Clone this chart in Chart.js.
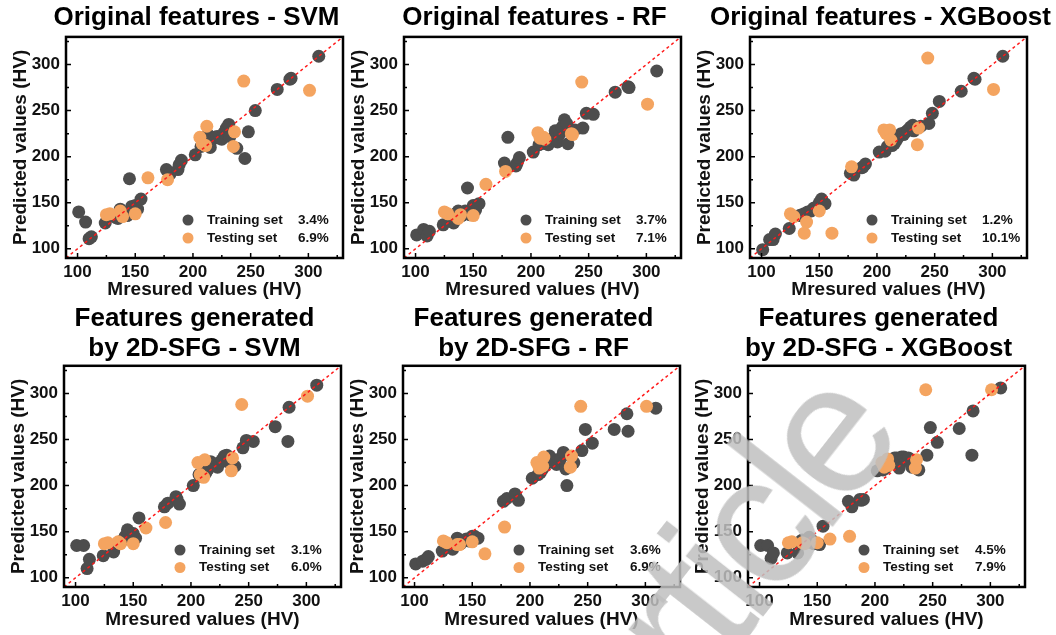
<!DOCTYPE html>
<html>
<head>
<meta charset="utf-8">
<script src="https://cdn.jsdelivr.net/npm/chart.js@4.4.1/dist/chart.umd.min.js"></script>
<style>
    html, body { margin: 0; padding: 0; background: #fff; overflow: hidden; }
    #wrap { position: relative; width: 1056px; height: 635px; }
    #wrap canvas { position: absolute; }
    #stamp {
        position: absolute; left: 715px; top: 575px;
        transform: translate(-50%, -50%) rotate(-52deg);
        font: 185px 'Liberation Sans', Arial, sans-serif; line-height: 1; letter-spacing: -10px;
        color: rgba(192, 192, 192, 0.85); white-space: nowrap; pointer-events: none;
    }
</style>
</head>
<body>
<div id="wrap"></div>
<div id="stamp">Article</div>
<script>
// hardness data (HV): measured values are shared, predictions per model
const measuredTrain = [101, 107, 110, 112, 124, 133, 135, 137, 140, 143, 145, 147, 150, 152, 155, 177, 180, 187, 188, 190, 202, 207, 209, 211, 213, 215, 217, 219, 221, 223, 225, 227, 229, 231, 232, 238, 245, 248, 254, 273, 284, 285, 309];
const measuredTest = [125, 128, 137, 139, 150, 161, 178, 206, 208, 211, 212, 235, 236, 244, 301];

const svmOrigTrain = [140, 129, 111, 113, 128, 134, 133, 143, 136, 136, 176, 146, 147, 143, 154, 186, 181, 186, 191, 196, 202, 211, 214, 216, 224, 210, 219, 221, 222, 220, 219, 226, 231, 235, 222, 209, 198, 227, 250, 273, 284, 285, 309];
const rfOrigTrain = [115, 121, 114, 119, 126, 128, 138, 141, 136, 141, 166, 137, 147, 142, 149, 193, 221, 190, 193, 199, 205, 213, 214, 216, 218, 213, 218, 220, 228, 216, 225, 232, 240, 236, 214, 229, 231, 247, 246, 270, 276, 275, 293];
const xgbOrigTrain = [99, 110, 110, 116, 122, 136, 137, 138, 140, 141, 144, 145, 150, 154, 149, 182, 180, 188, 189, 192, 205, 206, 211, 213, 212, 214, 218, 222, 225, 224, 227, 229, 232, 234, 228, 233, 236, 247, 260, 271, 285, 284, 309];
const svmSfgTrain = [135, 135, 110, 120, 124, 128, 135, 137, 140, 145, 152, 142, 148, 143, 165, 177, 181, 188, 185, 180, 200, 212, 210, 213, 214, 218, 226, 224, 222, 220, 225, 228, 232, 233, 226, 221, 241, 249, 248, 264, 248, 285, 309];
const rfSfgTrain = [115, 118, 120, 123, 129, 131, 138, 143, 137, 141, 142, 140, 145, 145, 143, 183, 186, 191, 188, 184, 208, 212, 214, 218, 222, 226, 232, 229, 225, 223, 228, 230, 236, 218, 200, 225, 238, 261, 246, 261, 278, 259, 284];
const xgbSfgTrain = [135, 135, 121, 127, 127, 127, 139, 141, 138, 144, 141, 137, 137, 136, 156, 183, 177, 185, 184, 185, 216, 217, 219, 222, 225, 228, 230, 230, 219, 231, 231, 228, 230, 224, 220, 217, 233, 263, 247, 262, 233, 281, 306];

const svmOrigTest = [137, 138, 141, 135, 138, 177, 175, 221, 214, 212, 233, 211, 227, 282, 272];
const rfOrigTest = [140, 138, 133, 137, 136, 170, 184, 226, 220, 221, 219, 225, 224, 281, 257];
const xgbOrigTest = [138, 135, 117, 129, 141, 117, 189, 229, 225, 229, 218, 213, 231, 307, 273];
const svmSfgTest = [137, 138, 139, 137, 137, 154, 160, 225, 212, 209, 228, 216, 230, 288, 297];
const rfSfgTest = [140, 138, 136, 136, 139, 126, 155, 225, 219, 221, 231, 220, 232, 286, 286];
const xgbSfgTest = [138, 139, 138, 137, 138, 142, 145, 225, 220, 229, 222, 219, 228, 304, 304];

const trainErrors = ['3.4%', '3.7%', '1.2%', '3.1%', '3.6%', '4.5%'];
const testErrors = ['6.9%', '7.1%', '10.1%', '6.0%', '6.9%', '7.9%'];
const titles = [
    'Original features - SVM',
    'Original features - RF',
    'Original features - XGBoost',
    ['Features generated', 'by 2D-SFG - SVM'],
    ['Features generated', 'by 2D-SFG - RF'],
    ['Features generated', 'by 2D-SFG - XGBoost']
];
const trainPredictions = [svmOrigTrain, rfOrigTrain, xgbOrigTrain, svmSfgTrain, rfSfgTrain, xgbSfgTrain];
const testPredictions = [svmOrigTest, rfOrigTest, xgbOrigTest, svmSfgTest, rfSfgTest, xgbSfgTest];

const axisRange = [90, 330];
const tickValues = [100, 150, 200, 250, 300];
const minorTickValues = [125, 175, 225, 275, 325];

const FONT = "'Liberation Sans', Arial, sans-serif";
const TRAIN_COLOR = '#4d4d4d';
const TEST_COLOR = '#f4a460';

// plot-area corners on the page for each panel
const plotLefts = [66, 404, 750, 64, 403, 748];
const PLOT_W = 277, PLOT_H = 221;
const Y_AXIS_W = 62, RIGHT_W = 46;

const rows = [
    { top: 0, height: 300, plotTop: 37, titlePad: { top: 3, bottom: 4 }, xTitlePad: 0.5, legend: { mark: 155, text: 136, pct: 45, dy: [38, 20] } },
    { top: 300, height: 335, plotTop: 66, titlePad: { top: 4, bottom: 2 }, xTitlePad: 5.5, legend: { mark: 161, text: 142, pct: 50, dy: [37, 19.5] } }
];

// black box around the plot with inward ticks on bottom and left
const frameTicks = {
    id: 'frameTicks',
    afterDraw(chart) {
        const { ctx, chartArea: a, scales: { x, y } } = chart;
        ctx.save();
        ctx.strokeStyle = '#000';
        ctx.lineWidth = 1.5;
        const tick = (v, len) => {
            const px = x.getPixelForValue(v), py = y.getPixelForValue(v);
            ctx.beginPath();
            ctx.moveTo(px, a.bottom); ctx.lineTo(px, a.bottom - len);
            ctx.moveTo(a.left, py); ctx.lineTo(a.left + len, py);
            ctx.stroke();
        };
        tickValues.forEach(v => tick(v, 5));
        minorTickValues.forEach(v => tick(v, 3));
        ctx.lineWidth = 2.5;
        ctx.strokeRect(a.left, a.top, a.width, a.height);
        ctx.restore();
    }
};

// legend with error column, inside lower right corner
const setLegend = {
    id: 'setLegend',
    afterDraw(chart, args, opts) {
        const { ctx, chartArea: a } = chart;
        ctx.save();
        ctx.font = 'bold 13.5px ' + FONT;
        ctx.textBaseline = 'middle';
        opts.items.forEach((item, i) => {
            const yy = a.bottom - opts.dy[i];
            ctx.fillStyle = item.color;
            ctx.beginPath();
            ctx.arc(a.right - opts.mark, yy, 5.5, 0, Math.PI * 2);
            ctx.fill();
            ctx.fillStyle = '#111';
            ctx.fillText(item.label, a.right - opts.text, yy);
            ctx.fillText(item.err, a.right - opts.pct, yy);
        });
        ctx.restore();
    }
};

function toPoints(xs, ys) {
    return xs.map((v, i) => ({ x: v, y: ys[i] }));
}

const wrap = document.getElementById('wrap');

titles.forEach((title, i) => {
    const row = rows[i < 3 ? 0 : 1];
    const canvas = document.createElement('canvas');
    canvas.width = Y_AXIS_W + PLOT_W + RIGHT_W;
    canvas.height = row.height;
    canvas.style.left = (plotLefts[i] - Y_AXIS_W) + 'px';
    canvas.style.top = row.top + 'px';
    wrap.appendChild(canvas);

    const xAxisH = row.height - row.plotTop - PLOT_H;

    new Chart(canvas.getContext('2d'), {
        type: 'scatter',
        data: {
            datasets: [
                {
                    data: toPoints(axisRange, axisRange),
                    showLine: true,
                    borderColor: '#ff1a1a',
                    borderWidth: 1.5,
                    borderDash: [3, 3],
                    pointRadius: 0
                },
                {
                    data: toPoints(measuredTest, testPredictions[i]),
                    backgroundColor: TEST_COLOR,
                    borderWidth: 0,
                    pointRadius: 6.5
                },
                {
                    data: toPoints(measuredTrain, trainPredictions[i]),
                    backgroundColor: TRAIN_COLOR,
                    borderWidth: 0,
                    pointRadius: 6.5
                }
            ]
        },
        options: {
            responsive: false,
            animation: false,
            devicePixelRatio: 1,
            events: [],
            layout: { padding: 0 },
            scales: {
                x: {
                    type: 'linear',
                    min: axisRange[0], max: axisRange[1],
                    afterBuildTicks: s => { s.ticks = tickValues.map(v => ({ value: v })); },
                    afterFit: s => { s.height = xAxisH; },
                    grid: { display: false, drawTicks: false },
                    border: { display: false },
                    ticks: { padding: 4, color: '#111', maxRotation: 0, autoSkip: false, font: { family: FONT, size: 17, weight: 'bold' } },
                    title: { display: true, text: 'Mresured values (HV)', color: '#111', padding: { top: 0, bottom: row.xTitlePad }, font: { family: FONT, size: 19, weight: 'bold', lineHeight: 1 } }
                },
                y: {
                    type: 'linear',
                    position: 'left',
                    min: axisRange[0], max: axisRange[1],
                    afterBuildTicks: s => { s.ticks = tickValues.map(v => ({ value: v })); },
                    afterFit: s => { s.width = Y_AXIS_W; },
                    grid: { display: false, drawTicks: false },
                    border: { display: false },
                    ticks: { padding: 6, color: '#111', autoSkip: false, font: { family: FONT, size: 17, weight: 'bold' } },
                    title: { display: true, text: 'Predicted values (HV)', color: '#111', padding: { top: 7, bottom: 0 }, font: { family: FONT, size: 19, weight: 'bold', lineHeight: 1 } }
                },
                yr: {
                    type: 'linear',
                    position: 'right',
                    afterFit: s => { s.width = RIGHT_W; },
                    grid: { display: false, drawTicks: false },
                    border: { display: false },
                    ticks: { display: false }
                }
            },
            plugins: {
                legend: { display: false },
                tooltip: { enabled: false },
                title: {
                    display: true,
                    text: title,
                    color: '#000',
                    padding: row.titlePad,
                    font: { family: FONT, size: 26, weight: 'bold', lineHeight: 1.15 }
                },
                setLegend: {
                    items: [
                        { label: 'Training set', err: trainErrors[i], color: TRAIN_COLOR },
                        { label: 'Testing set', err: testErrors[i], color: TEST_COLOR }
                    ],
                    mark: row.legend.mark, text: row.legend.text, pct: row.legend.pct, dy: row.legend.dy
                }
            }
        },
        plugins: [frameTicks, setLegend]
    });
});
</script>
</body>
</html>
